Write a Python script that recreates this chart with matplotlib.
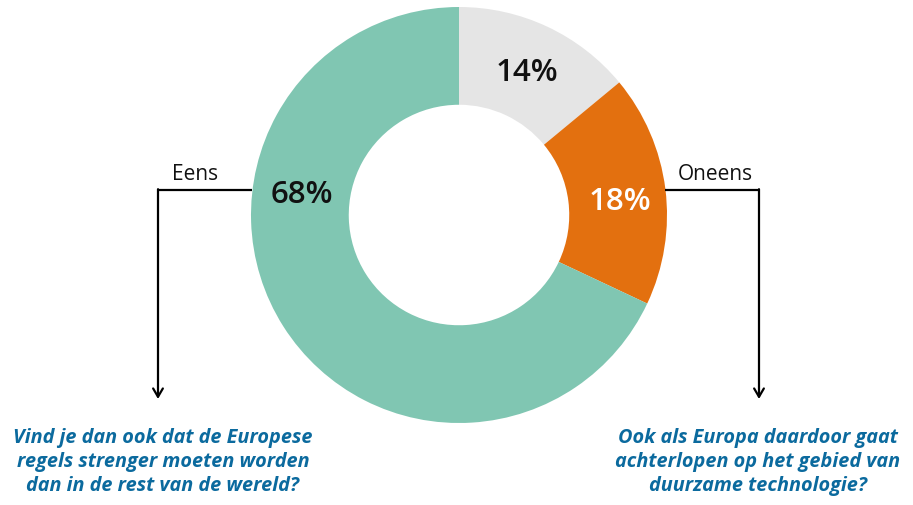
import matplotlib
matplotlib.use("Agg")
import matplotlib.pyplot as plt

categories = ["Weet niet", "Oneens", "Eens"]
values = [14, 18, 68]
labels = ["14%", "18%", "68%"]
colors = ["#E5E5E5", "#E3700F", "#80C6B2"]
label_colors = ["#111111", "#FFFFFF", "#111111"]
q_left = "Vind je dan ook dat de Europese\nregels strenger moeten worden\ndan in de rest van de wereld?"
q_right = "Ook als Europa daardoor gaat\nachterlopen op het gebied van\nduurzame technologie?"

W, H = 913, 505
fig = plt.figure(figsize=(W / 100, H / 100), dpi=100)
ax = fig.add_axes([0, 0, 1, 1])
ax.set_xlim(0, W)
ax.set_ylim(0, H)
ax.set_aspect("equal")
ax.axis("off")

def Y(py):
    return H - py

cx, cy, R = 459, Y(215), 208
wedges, _ = ax.pie(values, colors=colors, startangle=90, counterclock=False,
                   center=(cx, cy), radius=R,
                   wedgeprops=dict(width=R * 0.47, linewidth=0))
ax.set_xlim(0, W)
ax.set_ylim(0, H)

label_pos = [(527, 73), (620, 202), (302, 195)]
for (px, py), t, c in zip(label_pos, labels, label_colors):
    ax.text(px, Y(py), t, ha="center", va="center", fontsize=22.5,
            fontweight="semibold", color=c, family=["Open Sans", "DejaVu Sans"])

# connector lines
lw = 1.6
ax.plot([158, 252], [Y(190), Y(190)], color="black", lw=lw, solid_capstyle="butt")
ax.annotate("", xy=(158, Y(399)), xytext=(158, Y(189.2)),
            arrowprops=dict(arrowstyle="->,head_length=0.6,head_width=0.35", lw=lw, color="black",
                            shrinkA=0, shrinkB=0))
ax.plot([665, 759], [Y(190), Y(190)], color="black", lw=lw, solid_capstyle="butt")
ax.annotate("", xy=(759, Y(399)), xytext=(759, Y(189.2)),
            arrowprops=dict(arrowstyle="->,head_length=0.6,head_width=0.35", lw=lw, color="black",
                            shrinkA=0, shrinkB=0))

ax.text(195, Y(174), "Eens", ha="center", va="center", fontsize=15,
        color="#111111", family=["Open Sans", "DejaVu Sans"])
ax.text(715, Y(174), "Oneens", ha="center", va="center", fontsize=15,
        color="#111111", family=["Open Sans", "DejaVu Sans"])

qcol = "#0B6A9E"
qfont = ["Open Sans", "DejaVu Sans"]
ax.text(163, Y(462), q_left, ha="center", va="center", fontsize=14.3,
        fontweight="bold", fontstyle="italic", color=qcol, family=qfont,
        linespacing=1.27)
ax.text(758, Y(462), q_right, ha="center", va="center", fontsize=14.3,
        fontweight="bold", fontstyle="italic", color=qcol, family=qfont,
        linespacing=1.27)

fig.savefig("out.png", dpi=100)
